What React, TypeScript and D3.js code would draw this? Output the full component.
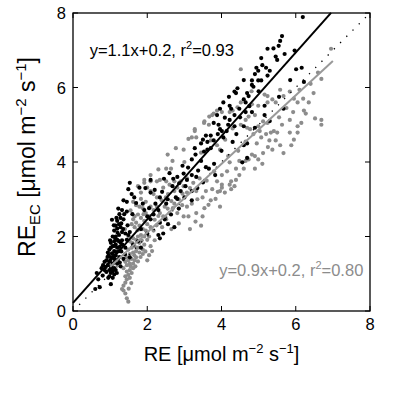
import React from "react";
import * as d3 from "d3";

// ---- data ----
const ticks = [0, 2, 4, 6, 8];
const tickLabels = ["0", "2", "4", "6", "8"];

const blackPoints: [number, number][] = [
  [5.58,7.25],[5.63,7.38],[5.24,7.04],[5.46,6.83],[5.50,6.74],[5.07,6.79],[4.94,6.53],[4.99,6.45],[4.90,6.36],[4.82,6.19],
  [4.99,6.19],[5.07,6.19],[4.82,6.07],[4.86,6.02],[4.43,5.98],[4.39,5.85],[4.35,5.89],[4.69,5.85],[4.73,5.77],[4.60,5.68],
  [4.05,5.60],[4.22,5.51],[3.96,5.43],[4.48,5.43],[4.65,5.34],[5.20,6.53],[5.24,6.32],[6.01,6.49],[6.16,6.53],[6.22,6.15],
  [5.16,5.51],[5.16,5.26],[5.67,5.43],[4.05,4.66],[4.14,4.83],[5.97,6.99],[5.54,7.12],[6.19,7.89],
  [3.88,5.26],[3.79,5.05],[3.92,5.00],[3.71,4.71],[3.58,4.71],[3.79,4.58],[3.62,4.54],[3.45,4.50],[3.28,4.37],[3.71,4.37],
  [3.53,4.28],[3.62,4.33],[3.20,4.07],[3.45,4.03],[3.58,3.86],[3.37,3.77],[3.66,3.82],[2.98,3.69],[3.20,3.65],[2.81,3.60],
  [3.07,3.52],[3.32,3.60],[3.83,3.65],[4.56,3.99],[4.69,4.11],[4.69,4.50],[4.60,4.45],[4.30,4.54],[2.68,3.35],[2.86,3.43],
  [3.03,3.35],[2.90,3.22],[3.20,3.22],[2.77,3.05],[2.81,3.01],[2.34,3.05],[3.20,2.97],[2.51,2.88],
  [4.26,5.43],[4.09,5.19],[4.35,5.26],[4.22,5.13],[4.18,5.00],[4.35,4.96],[4.60,4.96],[4.90,4.92],[3.96,4.88],[4.01,4.83],[4.65,5.60],
  [1.53,3.44],[1.49,3.27],[1.58,3.14],[1.36,2.97],[1.45,2.93],[1.32,2.71],[1.45,2.67],[1.28,2.50],[1.36,2.46],[1.19,2.42],
  [1.24,2.33],[1.15,2.29],[1.28,2.25],[1.19,2.21],[1.11,2.16],[1.32,2.12],[1.41,2.08],[1.24,2.04],[1.15,2.00],[1.07,2.00],
  [1.19,1.91],[1.11,1.87],[1.02,1.83],[1.28,1.83],[1.15,1.78],[1.07,1.74],[1.02,1.70],[1.19,1.70],[0.98,1.65],[1.11,1.61],
  [1.24,1.61],[0.94,1.57],[1.07,1.53],[1.15,1.49],[1.02,1.44],[1.11,1.40],[0.90,1.36],[0.98,1.32],[1.07,1.27],[1.19,1.27],
  [0.85,1.32],[0.94,1.23],[1.02,1.19],[1.11,1.15],[0.98,1.10],[1.07,1.06],[1.02,1.02],[1.11,0.98],[0.98,0.93],[1.07,0.89],
  [0.81,1.23],[0.77,1.15],[0.85,1.10],[0.64,1.02],[0.68,0.85],[0.60,0.59],[0.72,0.64],[1.02,0.72],[1.36,1.40],[1.41,1.70],
  [1.45,1.91],[1.49,2.04],[1.53,2.12],[0.95,0.89],
  [1.00,1.90],[1.12,1.75],[1.22,1.88],[1.05,1.55],[1.17,1.58],[1.13,1.32],[1.25,1.45],[1.30,1.60],[1.20,2.10],[1.10,2.30],
  [1.35,2.20],[1.25,2.60],[1.17,2.50],[0.93,1.45],[1.00,1.35],[1.28,1.20],[1.15,1.10],[1.05,1.15],[0.88,1.18],[1.32,1.90],
  [2.09,3.18],[2.09,3.52],[1.79,3.31],[1.88,2.88],[1.92,2.71],[2.00,2.54],[2.05,2.76],[2.22,2.88],[2.30,2.71],[2.17,2.59],
  [2.34,2.37],[2.47,2.46],[2.56,2.33],[2.73,2.25],[2.64,2.59],[2.09,2.46],[1.83,2.20],[2.30,2.04],[2.43,2.08],[2.34,1.95],
  [1.75,1.87],[1.62,1.78],[1.83,1.70],[2.00,2.08],[1.53,1.44],[4.82,5.34],
  [1.05,2.45],[1.22,2.75],[1.30,2.35],[1.38,2.60],[1.14,1.95],[1.26,1.72],[0.96,1.50],[1.09,1.45],[1.21,1.38],[0.90,1.05],
  [1.18,1.02],[1.26,1.30],[1.40,1.52],[0.80,0.95],[1.33,1.78],[1.47,2.30],[1.60,2.60],[1.70,2.90],[1.65,3.05],[1.95,3.30],
  [2.20,3.25],[2.45,3.55],[2.60,3.70],[2.40,3.20],[2.55,3.00],[2.70,3.55],[2.95,3.90],[3.10,3.85],[3.30,4.20],[3.50,4.60],
  [3.90,4.75],[3.35,3.30],[3.00,3.05],[2.85,2.75],[3.50,3.45],[3.80,3.95],[4.00,4.30],[4.40,4.75],[4.50,5.20],[4.75,5.50],
  [5.00,5.90],[5.30,6.45],[5.40,7.05],[5.70,6.90],[5.10,6.60],[4.60,6.20],[4.20,5.75],[5.85,6.20],[5.55,5.75],[5.30,5.10]
];

const grayPoints: [number, number][] = [
  [1.36,0.55],[1.41,0.47],[1.45,0.34],[1.49,0.25],[1.32,0.59],[1.36,0.68],[1.41,0.76],[1.45,0.85],[1.53,0.89],[1.41,0.93],
  [1.49,0.97],[1.58,1.02],[1.45,1.06],[1.53,1.10],[1.62,1.15],[1.36,1.15],[1.45,1.23],[1.53,1.27],[1.62,1.27],[1.41,1.32],
  [1.49,1.36],[1.58,1.40],[1.66,1.36],[1.70,1.44],[1.45,1.44],[1.53,1.53],[1.62,1.57],[1.70,1.61],[1.79,1.57],[1.88,1.53],
  [2.00,1.36],[1.75,1.70],[1.66,1.74],[1.58,1.70],[1.49,1.65],[1.88,1.65],[1.92,1.78],[1.79,1.83],[1.70,1.91],[1.62,1.95],
  [1.53,1.87],[1.75,2.00],[1.83,2.04],[1.92,2.00],[2.00,1.91],[2.09,1.74],[2.13,1.61],[1.96,2.16],[1.88,2.20],[1.79,2.29],
  [1.70,2.37],[1.62,2.46],[1.58,2.33],[1.66,2.54],[1.75,2.59],[1.83,2.50],[1.92,2.42],[2.00,2.33],[2.09,2.25],[2.17,2.16],
  [2.05,2.54],[1.96,2.63],[1.88,2.76],[1.79,2.80],[1.70,2.84],[1.62,2.93],[1.83,3.01],[1.96,2.93],[2.09,2.80],[2.17,2.71],
  [2.26,2.80],[2.34,2.63],[2.43,2.54],[2.51,2.46],[2.60,2.63],[2.69,2.76],[2.47,2.80],[2.39,2.97],[2.26,3.05],[2.17,3.14],
  [2.09,3.22],[2.00,3.31],[1.92,3.44],[1.83,3.18],[2.09,3.48],[2.26,3.48],[2.34,3.52],[2.51,3.48],[2.60,3.39],[2.43,3.31],
  [2.56,3.14],[2.73,3.22],[2.81,3.31],[2.98,3.35],[3.07,3.18],[2.94,2.84],[3.07,2.80],[3.20,2.88],[3.11,2.54],[2.98,2.54],
  [2.81,2.63],[2.73,2.88],[3.32,2.63],[3.45,2.29],[3.49,2.54],[3.54,2.76],[3.71,2.97],[3.84,3.01],[3.96,3.22],[4.09,3.18],
  [4.26,3.27],[4.26,3.48],[3.88,3.48],[4.01,3.39],[3.75,3.27],[3.58,3.22],[3.49,3.05],[3.32,3.22],[3.24,3.44],[3.41,3.56],
  [3.07,3.56],[2.90,3.48],[2.73,3.48],[4.01,3.65],[3.96,2.80],
  [4.52,6.49],[5.58,5.94],[5.67,5.77],[5.84,5.89],[5.37,5.68],[5.46,5.60],[5.24,5.77],[5.16,5.81],[4.99,5.51],[4.82,5.55],
  [4.52,5.60],[4.43,5.47],[4.30,5.38],[4.22,5.34],[4.01,5.34],[3.88,5.38],[3.79,5.30],[3.75,5.26],[3.53,5.05],[3.66,5.00],
  [4.52,5.00],[4.65,5.13],[4.69,4.92],[4.77,4.88],[4.86,4.75],[5.03,4.83],[4.73,5.22],[4.90,5.26],[5.12,5.09],[5.24,5.05],
  [4.99,4.96],[5.20,4.75],[5.33,4.79],[5.41,4.83],[5.63,5.00],[5.84,5.13],[5.93,5.34],[5.46,4.58],[5.58,4.45],[5.67,4.24],
  [5.84,4.79],[5.37,4.33],[5.12,4.24],[4.99,4.07],[4.90,4.16],[4.73,4.07],[4.65,4.03],[4.48,4.03],[4.39,3.82],[4.22,3.99],
  [4.18,4.16],[3.96,4.33],[3.88,4.45],[3.71,4.58],[3.28,4.83],[3.20,4.66],[3.32,4.66],[3.11,4.62],[2.77,4.37],[2.68,4.03],
  [4.48,3.65],[4.39,3.52],
  [6.95,7.04],[6.69,6.23],[6.48,5.85],[6.52,5.17],[6.69,5.13],[6.69,5.00],[6.22,5.38],[6.27,5.30],[6.10,5.94],[6.05,5.60],[6.05,4.79],
  [3.28,4.88],[3.54,5.09],[3.67,5.22],[2.98,4.33],[2.51,3.82],[2.64,3.82],[2.09,3.65],[1.92,3.52],[6.05,4.96],[5.88,4.45],
  [5.29,4.58],[5.07,4.66],[5.50,4.79],[4.82,4.20],[4.90,3.82],[4.60,3.82],[4.35,3.35],[4.22,3.39],[4.01,3.31],[4.81,5.90],[5.24,5.60],
  [1.57,0.75],[1.50,0.60],[1.55,1.20],[1.68,1.20],[1.75,1.33],[1.65,1.50],[1.82,1.45],[1.95,1.60],[2.05,1.50],[1.60,1.82],
  [1.85,1.90],[2.05,2.00],[2.20,1.90],[2.25,2.30],[2.40,2.25],[2.20,2.45],[1.74,2.17],[1.66,2.25],[1.90,2.60],[2.30,2.55],
  [2.55,2.75],[2.65,2.95],[2.85,3.00],[2.50,3.05],[2.95,3.15],[3.15,3.30],[3.35,3.00],[3.60,3.50],[3.80,3.75],[3.90,3.20],
  [3.65,2.85],[3.30,2.40],[3.15,2.20],[2.85,2.35],[2.65,2.20],[4.15,3.75],[4.45,4.30],[4.65,4.55],[4.95,4.50],[5.25,4.40],
  [5.10,3.95],[5.55,5.20],[5.75,5.45],[5.95,5.70],[6.20,5.70],[6.35,5.60],[6.40,6.10],[6.60,6.40],[6.15,5.05],[5.95,4.60],
  [4.30,4.90],[4.10,4.60],[3.45,4.25],[3.00,4.00],[2.55,4.20],[2.30,3.80],[1.75,3.35],[1.55,2.70],[1.40,2.20],[1.50,2.00]
];

// regression fits: [slope, intercept], x-extent
const blackFit = [1.12, 0.22];
const blackFitRange = [0, 6.95];
const grayFit = [0.92, 0.27];
const grayFitRange = [1.0, 7.0];
const oneToOneRange = [0, 8];

// annotation text and anchor positions (data units)
const blackLabel = ["y=1.1x+0.2, r", "2", "=0.93"];
const blackLabelAt = [0.45, 6.85];
const grayLabel = ["y=0.9x+0.2, r", "2", "=0.80"];
const grayLabelAt = [7.82, 0.95];

const FONT = "'Liberation Sans', Arial, Helvetica, sans-serif";
const GRAY = "#8c8c8c";

export default function App() {
  const L = 73, R = 370, T = 13, B = 311;
  const x = d3.scaleLinear().domain([0, 8]).range([L, R]);
  const y = d3.scaleLinear().domain([0, 8]).range([B, T]);

  const fitPath = (fit: number[], range: number[]) =>
    d3.line<number>().x((d) => x(d)).y((d) => y(fit[0] * d + fit[1]))(range) || "";
  const oneToOne = d3.line<number>().x((d) => x(d)).y((d) => y(d))(oneToOneRange) || "";

  const tl = 5;
  const pr = 2.1;
  return (
    <svg
      width={394}
      height={394}
      style={{ position: "fixed", left: 0, top: 0, background: "#fff" }}
      fontFamily={FONT}
    >
      <rect x={0} y={0} width={394} height={394} fill="#fff" />
      {grayPoints.map((p, i) => (
        <circle key={"g" + i} cx={x(p[0])} cy={y(p[1])} r={pr} fill={GRAY} />
      ))}
      {blackPoints.map((p, i) => (
        <circle key={"b" + i} cx={x(p[0])} cy={y(p[1])} r={pr} fill="#000" />
      ))}
      <path d={oneToOne} stroke="#000" strokeWidth={1.3} strokeDasharray="1.3 7.5" fill="none" />
      <path d={fitPath(grayFit, grayFitRange)} stroke="#999" strokeWidth={2} fill="none" />
      <path d={fitPath(blackFit, blackFitRange)} stroke="#000" strokeWidth={2} fill="none" />

      <rect x={L} y={T} width={R - L} height={B - T} fill="none" stroke="#000" strokeWidth={1.3} />
      {ticks.map((t, i) => (
        <g key={"t" + i}>
          <line x1={x(t)} x2={x(t)} y1={B} y2={B - tl} stroke="#000" strokeWidth={1} />
          <line x1={x(t)} x2={x(t)} y1={T} y2={T + tl} stroke="#000" strokeWidth={1} />
          <line x1={L} x2={L + tl} y1={y(t)} y2={y(t)} stroke="#000" strokeWidth={1} />
          <line x1={R} x2={R - tl} y1={y(t)} y2={y(t)} stroke="#000" strokeWidth={1} />
          <text x={x(t)} y={B + 19} fontSize={16.5} textAnchor="middle">{tickLabels[i]}</text>
          <text x={L - 7} y={y(t) + 6} fontSize={16.5} textAnchor="end">{tickLabels[i]}</text>
        </g>
      ))}

      <text x={(L + R) / 2} y={361} fontSize={20} textAnchor="middle">
        RE [μmol m<tspan dy={-8} fontSize={13}>−2</tspan>
        <tspan dy={8}> s</tspan>
        <tspan dy={-8} fontSize={13}>−1</tspan>
        <tspan dy={8}>]</tspan>
      </text>
      <text transform={`translate(35,${(T + B) / 2 - 5}) rotate(-90)`} fontSize={23} textAnchor="middle">
        RE<tspan dy={5} fontSize={15}>EC</tspan>
        <tspan dy={-5}> [μmol m</tspan>
        <tspan dy={-9} fontSize={15}>−2</tspan>
        <tspan dy={9}> s</tspan>
        <tspan dy={-9} fontSize={15}>−1</tspan>
        <tspan dy={9}>]</tspan>
      </text>

      <text x={x(blackLabelAt[0])} y={y(blackLabelAt[1])} fontSize={16.5} fill="#000">
        {blackLabel[0]}
        <tspan dy={-7} fontSize={11}>{blackLabel[1]}</tspan>
        <tspan dy={7}>{blackLabel[2]}</tspan>
      </text>
      <text x={x(grayLabelAt[0])} y={y(grayLabelAt[1])} fontSize={16.5} fill={GRAY} textAnchor="end">
        {grayLabel[0]}
        <tspan dy={-7} fontSize={11}>{grayLabel[1]}</tspan>
        <tspan dy={7}>{grayLabel[2]}</tspan>
      </text>
    </svg>
  );
}
